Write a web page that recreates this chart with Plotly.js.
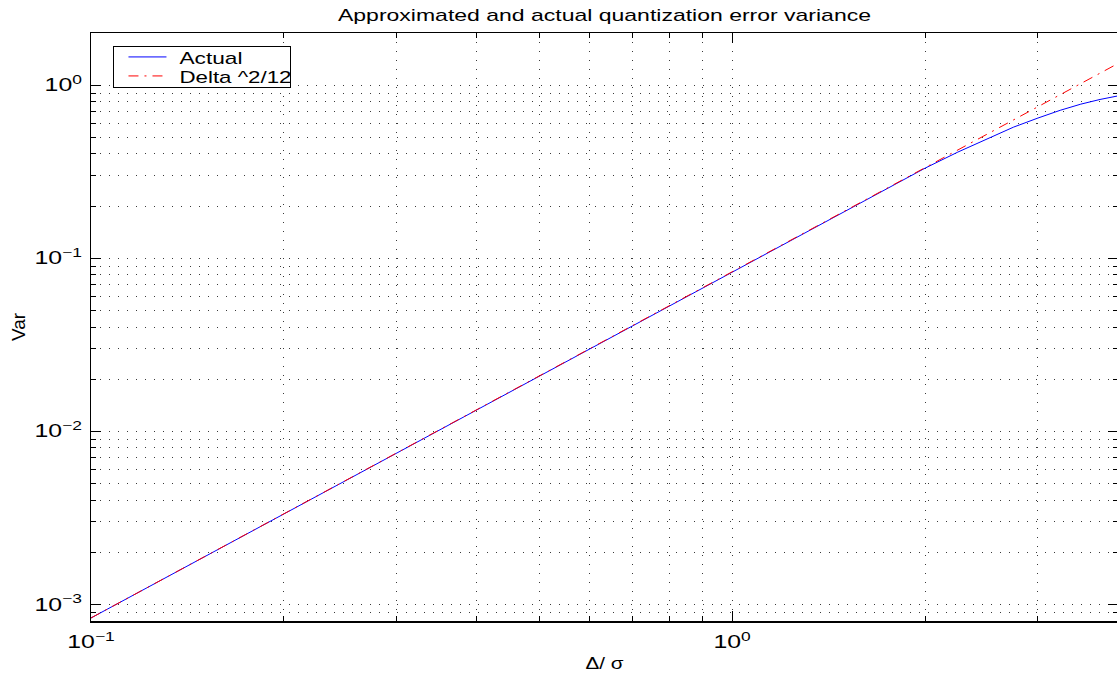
<!DOCTYPE html>
<html>
<head>
<meta charset="utf-8">
<script src="https://cdn.plot.ly/plotly-3.0.1.min.js"></script>
<style>
  html, body { margin: 0; padding: 0; overflow: hidden; background: #fff; }
</style>
</head>
<body>
<div id="chart"></div>
<script>
// Quantization error variance versus normalised step size (Delta / sigma)
const deltaActual = [0.1, 0.2, 0.5, 1, 1.5, 2, 2.25, 2.5, 2.75, 3, 3.25, 3.5, 3.75, 4];
const varActual   = [0.000833, 0.00333, 0.0208, 0.0833, 0.1875, 0.331, 0.41, 0.49, 0.572, 0.645, 0.715, 0.776, 0.826, 0.866];

const deltaApprox = [0.1, 0.2, 0.5, 1, 2, 3, 4];
const varApprox   = [0.000833, 0.00333, 0.0208, 0.0833, 0.333, 0.75, 1.333];

const xTickVals = [0.1, 1];
const xTickText = ['10<sup>\u22121</sup>', '10<sup>0</sup>'];
const yTickVals = [0.001, 0.01, 0.1, 1];
const yTickText = ['10<sup>\u22123</sup>', '10<sup>\u22122</sup>', '10<sup>\u22121</sup>', '10<sup>0</sup>'];

const xRange = [0.1, 4];
const yRange = [0.0008, 2];

// 2..9 x 10^d positions inside a range, for the minor ticks / grid
function minorPositions(lo, hi) {
  const out = [];
  for (let d = Math.floor(Math.log10(lo)); d <= Math.ceil(Math.log10(hi)); d++) {
    for (let k = 2; k <= 9; k++) {
      const v = k * Math.pow(10, d);
      if (v >= lo * 0.999 && v <= hi * 1.001) out.push(v);
    }
  }
  return out;
}

const FONT = 'Liberation Sans, Arial, Helvetica, sans-serif';
const GRID_DASH = '1px,8px';
const GRID_COLOR = '#3a3a3a';

const traces = [
  {
    x: deltaActual, y: varActual, name: 'Actual', type: 'scatter', mode: 'lines',
    line: { color: '#0000ff', width: 1 }
  },
  {
    x: deltaApprox, y: varApprox, name: 'Delta ^2/12', type: 'scatter', mode: 'lines',
    line: { color: '#ff0000', width: 1, dash: '10px,6px,2px,6px' }
  }
];

function axisBase(vals, text, range) {
  return {
    type: 'log',
    range: range.map(Math.log10),
    tickmode: 'array', tickvals: vals, ticktext: text,
    ticks: 'inside', ticklen: 10, tickcolor: '#000', tickwidth: 1,
    showline: true, linecolor: '#000', linewidth: 1.5, mirror: 'allticks',
    showgrid: true, gridcolor: GRID_COLOR, griddash: GRID_DASH, gridwidth: 1,
    zeroline: false,
    tickfont: { family: FONT, size: 18, color: '#000' },
    minor: {
      tickmode: 'array', tickvals: minorPositions(range[0], range[1]),
      ticks: 'inside', ticklen: 5, tickcolor: '#000', tickwidth: 1,
      showgrid: true, gridcolor: GRID_COLOR, griddash: GRID_DASH, gridwidth: 1
    }
  };
}

const xaxis = Object.assign(axisBase(xTickVals, xTickText, xRange), {
  title: { text: '\u0394/ \u03c3', font: { family: FONT, size: 17, color: '#000' }, standoff: 6 },
  ticklabelstandoff: 4
});
const yaxis = Object.assign(axisBase(yTickVals, yTickText, yRange), {
  title: { text: 'Var', font: { family: FONT, size: 19, color: '#000' }, standoff: 17 },
  ticklabelstandoff: 4
});

const layout = {
  width: 1119, height: 673,
  margin: { l: 91, r: 1, t: 33, b: 52 },
  paper_bgcolor: '#fff', plot_bgcolor: '#fff',
  font: { family: FONT, color: '#000' },
  title: {
    text: 'Approximated and actual quantization error variance',
    font: { family: FONT, size: 17, color: '#000' },
    xref: 'paper', x: 0.5, xanchor: 'center',
    yref: 'container', y: 1 - 15 / 673, yanchor: 'middle'
  },
  xaxis: xaxis,
  yaxis: yaxis,
  showlegend: true,
  legend: {
    x: 0.0214, y: 0.978, xanchor: 'left', yanchor: 'top',
    bgcolor: '#fff', bordercolor: '#000', borderwidth: 1.5,
    font: { family: FONT, size: 17, color: '#000' },
    tracegroupgap: 0
  }
};

// Widen a text element's glyphs horizontally (the lettering here is set wide)
function widenBy(el, factor) {
  const len = el.getComputedTextLength();
  if (len > 0) {
    el.setAttribute('textLength', (len * factor).toFixed(1));
    el.setAttribute('lengthAdjust', 'spacingAndGlyphs');
  }
}
function widenTo(el, width) {
  if (el && el.getComputedTextLength() > 0) {
    el.setAttribute('textLength', width);
    el.setAttribute('lengthAdjust', 'spacingAndGlyphs');
  }
}

Plotly.newPlot('chart', traces, layout, { displayModeBar: false, staticPlot: true }).then(function (gd) {
  gd.querySelectorAll('.xtick text, .ytick text').forEach(t => widenBy(t, 1.38));
  widenTo(gd.querySelector('.gtitle'), 533);
  widenTo(gd.querySelector('.xtitle'), 38);

  // compact legend: rows 19px apart, wider sample line and text
  gd.querySelectorAll('.legend .scrollbox').forEach(s => s.removeAttribute('clip-path'));
  const rows = gd.querySelectorAll('.legend .traces');
  rows.forEach((g, i) => g.setAttribute('transform', 'translate(1.5,' + (11 + i * 19) + ')'));
  gd.querySelectorAll('.legend .legendlines path').forEach(p => p.setAttribute('d', 'M14,0h38'));
  const legendWidths = [63, 112];
  gd.querySelectorAll('.legend text.legendtext').forEach((t, i) => {
    t.setAttribute('x', 65);
    widenTo(t, legendWidths[i]);
  });
  const bg = gd.querySelector('.legend rect.bg');
  if (bg) { bg.setAttribute('width', 177); bg.setAttribute('height', 41); }
});
</script>
</body>
</html>
